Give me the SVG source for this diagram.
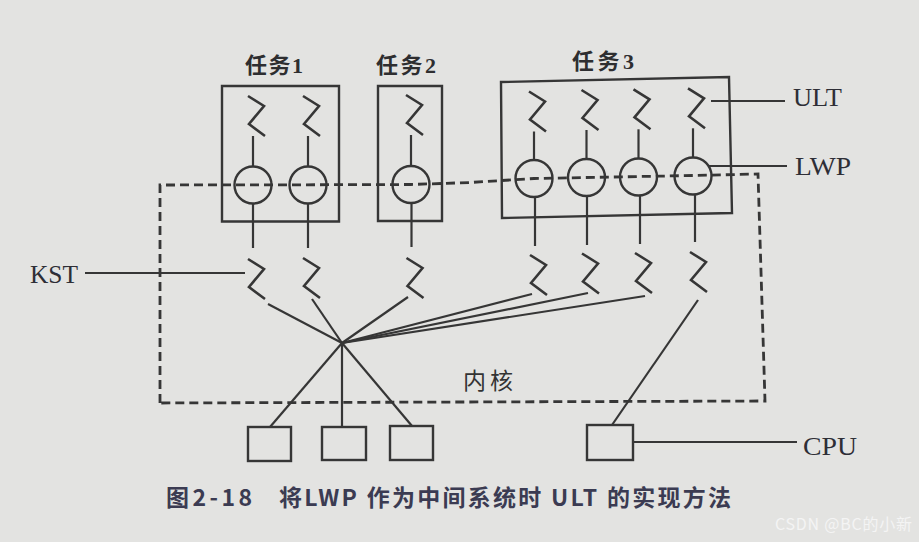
<svg xmlns="http://www.w3.org/2000/svg" width="919" height="542" viewBox="0 0 919 542">
<style>
.ln{fill:none;stroke:#363636;stroke-width:2.2}
.zz{fill:none;stroke:#363636;stroke-width:2.6;stroke-linejoin:miter}
.dash{fill:none;stroke:#363636;stroke-width:2.8;stroke-dasharray:9 5}
.box{fill:none;stroke:#363636;stroke-width:2.4}
.lwp{fill:none;stroke:#363636;stroke-width:2.4}
.lbl{font-family:"Liberation Serif","Times New Roman",serif;font-size:25px;fill:#2e2e36}
.task{font-family:"Liberation Serif","Noto Sans CJK SC",serif;font-size:22px;font-weight:bold;fill:#2e2e30}
.kern{font-family:"Noto Sans CJK SC",sans-serif;font-size:23px;fill:#333}
.cap{font-family:"Noto Sans CJK SC","Noto Sans",sans-serif;font-size:23px;font-weight:bold;fill:#3b3b52}
.wm{font-family:"Noto Sans CJK SC","Noto Sans",sans-serif;font-size:16px;fill:#f4f4f4}
</style>
<defs>
<path id="zz" class="zz" d="M-5,0 L11,10 L-4,28 L12,40"/>
</defs>
<rect width="919" height="542" fill="#e3e3e1"/>

<g id="kernel">
<path class="dash" d="M160,403 L160,185 L300,184.8 L411,184.5 L470,182.5 L534,178.5 L693,175.5 L758,174 L765,401 Z"/>
<text class="kern" x="463" y="389" textLength="50">内核</text>
</g>

<g id="task1">
<path class="box" d="M222,86 H339 V221.5 H222 Z"/>
<text class="task" x="245" y="73" textLength="58">任务1</text>
<use href="#zz" x="253" y="96"/>
<use href="#zz" x="308" y="96"/>
<line class="ln" x1="253" y1="136" x2="253" y2="166.5"/>
<line class="ln" x1="308" y1="136" x2="308" y2="166.5"/>
<circle class="lwp" cx="253" cy="185" r="18.5"/>
<circle class="lwp" cx="308" cy="185" r="18.5"/>
</g>

<g id="task2">
<path class="box" d="M378,86 H442 V221 H378 Z"/>
<text class="task" x="376" y="73" textLength="60">任务2</text>
<use href="#zz" x="411" y="95"/>
<line class="ln" x1="411" y1="135" x2="411" y2="166"/>
<circle class="lwp" cx="411" cy="184.5" r="18.5"/>
</g>

<g id="task3">
<path class="box" d="M501,82 L729,77 L732,213 L502,218 Z"/>
<text class="task" x="572" y="69" textLength="62">任务3</text>
<use href="#zz" x="534" y="91.5"/>
<use href="#zz" x="586.5" y="90"/>
<use href="#zz" x="638.5" y="89.3"/>
<use href="#zz" x="693" y="88.3"/>
<line class="ln" x1="534" y1="131.5" x2="534" y2="160"/>
<line class="ln" x1="586.5" y1="130" x2="586.5" y2="159"/>
<line class="ln" x1="638.5" y1="129.3" x2="638.5" y2="158.5"/>
<line class="ln" x1="693" y1="128.3" x2="693" y2="157.5"/>
<circle class="lwp" cx="534" cy="178.5" r="18.5"/>
<circle class="lwp" cx="586.5" cy="177.5" r="18.5"/>
<circle class="lwp" cx="638.5" cy="177" r="18.5"/>
<circle class="lwp" cx="693" cy="176" r="18.5"/>
</g>

<g id="kst">
<use href="#zz" x="253" y="259"/>
<use href="#zz" x="308" y="258"/>
<use href="#zz" x="411.5" y="258"/>
<use href="#zz" x="535" y="255"/>
<use href="#zz" x="587" y="253.5"/>
<use href="#zz" x="640" y="253"/>
<use href="#zz" x="695" y="252"/>
</g>

<g id="processors">
<rect class="box" x="248" y="427" width="43" height="34"/>
<rect class="box" x="322" y="427" width="44" height="33"/>
<rect class="box" x="390" y="426" width="43" height="34"/>
<rect class="box" x="587" y="425" width="46" height="35"/>
</g>

<g id="connectors">
<line class="ln" x1="253" y1="203.5" x2="253" y2="248"/>
<line class="ln" x1="308" y1="203.5" x2="308" y2="248"/>
<line class="ln" x1="411.5" y1="203" x2="411.5" y2="247"/>
<line class="ln" x1="535" y1="197" x2="535" y2="246"/>
<line class="ln" x1="587" y1="196" x2="587" y2="245"/>
<line class="ln" x1="640" y1="195.5" x2="640" y2="244"/>
<line class="ln" x1="695" y1="194.5" x2="695" y2="242"/>
<line class="ln" x1="268" y1="304" x2="342" y2="343"/>
<line class="ln" x1="312" y1="299" x2="342" y2="343"/>
<line class="ln" x1="408" y1="297" x2="342" y2="343"/>
<line class="ln" x1="532" y1="294" x2="342" y2="343"/>
<line class="ln" x1="588" y1="293" x2="342" y2="343"/>
<line class="ln" x1="645" y1="296" x2="342" y2="343"/>
<line class="ln" x1="342" y1="343" x2="270" y2="427"/>
<line class="ln" x1="342" y1="343" x2="342" y2="427"/>
<line class="ln" x1="342" y1="343" x2="412" y2="426"/>
<line class="ln" x1="698" y1="300" x2="612" y2="425"/>
</g>

<g id="labels">
<line class="ln" x1="711" y1="101" x2="785" y2="101"/>
<text class="lbl" x="793" y="106" textLength="49" lengthAdjust="spacingAndGlyphs">ULT</text>
<line class="ln" x1="708" y1="166" x2="787" y2="166"/>
<text class="lbl" x="795" y="175" textLength="56" lengthAdjust="spacingAndGlyphs">LWP</text>
<line class="ln" x1="85" y1="273" x2="245" y2="273"/>
<text class="lbl" x="30" y="283" textLength="48" lengthAdjust="spacingAndGlyphs">KST</text>
<line class="ln" x1="633" y1="442" x2="797" y2="442"/>
<text class="lbl" x="803" y="455" textLength="54" lengthAdjust="spacingAndGlyphs" style="font-size:26px">CPU</text>
</g>

<g id="caption">
<text class="cap" x="166" y="506" textLength="86">图2-18</text>
<text class="cap" x="279" y="506" textLength="452">将LWP 作为中间系统时 ULT 的实现方法</text>
<text class="wm" x="775" y="530" textLength="137">CSDN @BC的小新</text>
</g>
</svg>
